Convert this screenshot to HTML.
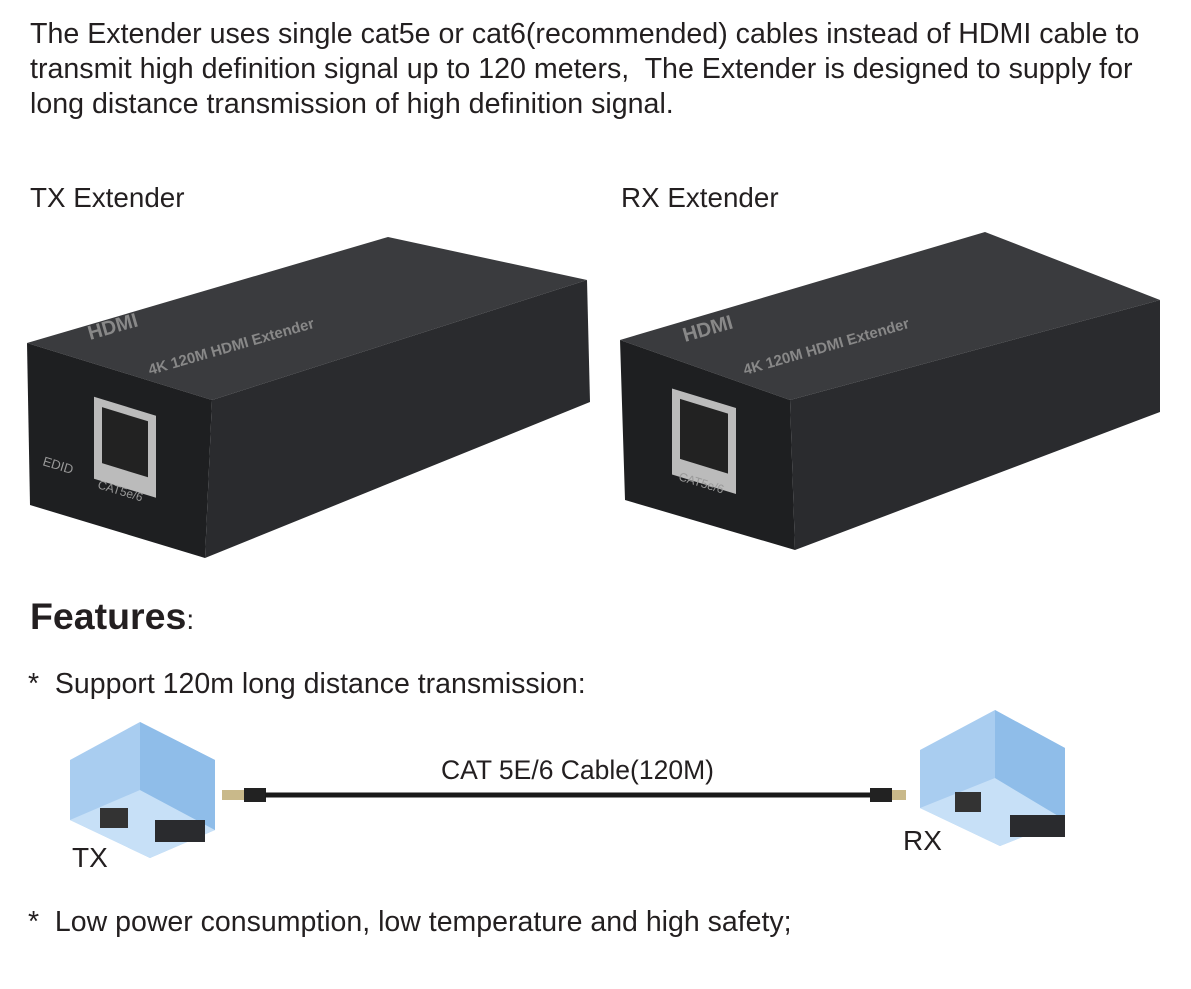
<!DOCTYPE html>
<html><head><meta charset="utf-8"><style>
body{margin:0;width:1191px;height:989px;background:#fff;position:relative;overflow:hidden;font-family:"Liberation Sans",sans-serif;color:#231f20}
.t{position:absolute;white-space:nowrap}
</style></head><body>
<div class="t" style="left:30px;top:17px;font-size:28.6px;line-height:35px">The Extender uses single cat5e or cat6(recommended) cables instead of HDMI cable to<br>transmit high definition signal up to 120 meters,&nbsp; The Extender is designed to supply for<br>long distance transmission of high definition signal.</div>
<div class="t" style="left:30px;top:182px;font-size:27.8px">TX Extender</div>
<div class="t" style="left:621px;top:182px;font-size:27.8px">RX Extender</div>
<svg width="1191" height="989" style="position:absolute;left:0;top:0">
<g>
<polygon points="27,343 388,237 587,280 212,400" fill="#3a3b3e"/>
<polygon points="27,343 212,400 205,558 30,505" fill="#1e1f21"/>
<polygon points="212,400 587,280 590,402 205,558" fill="#2a2b2e"/>
<rect x="94" y="396" width="62" height="82" fill="#bbb" transform="skewY(17) translate(0,-28)"/>
<rect x="102" y="404" width="46" height="56" fill="#222" transform="skewY(17) translate(0,-28)"/>
<text x="90" y="340" fill="#888" font-size="20" font-weight="bold" transform="rotate(-16 90 340)">HDMI</text>
<text x="150" y="375" fill="#888" font-size="15" font-weight="bold" transform="rotate(-16 150 375)">4K 120M HDMI Extender</text>
<text x="42" y="465" fill="#999" font-size="13" transform="rotate(17 42 465)">EDID</text>
<text x="97" y="488" fill="#999" font-size="12" transform="rotate(17 97 488)">CAT5e/6</text>
</g>
<g>
<polygon points="620,340 985,232 1160,300 790,400" fill="#3a3b3e"/>
<polygon points="620,340 790,400 795,550 625,500" fill="#1e1f21"/>
<polygon points="790,400 1160,300 1160,412 795,550" fill="#2a2b2e"/>
<rect x="672" y="388" width="64" height="86" fill="#bbb" transform="skewY(17) translate(0,-205)"/>
<rect x="680" y="396" width="48" height="60" fill="#222" transform="skewY(17) translate(0,-205)"/>
<text x="685" y="342" fill="#888" font-size="20" font-weight="bold" transform="rotate(-16 685 342)">HDMI</text>
<text x="745" y="375" fill="#888" font-size="15" font-weight="bold" transform="rotate(-16 745 375)">4K 120M HDMI Extender</text>
<text x="678" y="480" fill="#999" font-size="12" transform="rotate(17 678 480)">CAT5e/6</text>
</g>
<g>
<polygon points="70,760 140,722 215,760 215,830 150,858 70,820" fill="#a9cdf0"/>
<polygon points="70,820 140,790 215,830 150,858" fill="#c7e0f7"/>
<polygon points="140,722 140,790 215,830 215,760" fill="#8fbde9"/>
<rect x="155" y="820" width="50" height="22" fill="#2a2b2e"/>
<rect x="100" y="808" width="28" height="20" fill="#333"/>
</g>
<g>
<polygon points="920,750 995,710 1065,748 1065,820 1000,846 920,808" fill="#a9cdf0"/>
<polygon points="920,808 995,778 1065,820 1000,846" fill="#c7e0f7"/>
<polygon points="995,710 995,778 1065,820 1065,748" fill="#8fbde9"/>
<rect x="1010" y="815" width="55" height="22" fill="#2a2b2e"/>
<rect x="955" y="792" width="26" height="20" fill="#333"/>
</g>
<rect x="222" y="790" width="22" height="10" fill="#c9b98a"/>
<rect x="244" y="788" width="22" height="14" fill="#222"/>
<line x1="265" y1="795" x2="870" y2="795" stroke="#1a1a1a" stroke-width="5"/>
<rect x="870" y="788" width="22" height="14" fill="#222"/>
<rect x="892" y="790" width="14" height="10" fill="#c9b98a"/>
</svg>
<div class="t" style="left:30px;top:595px;font-size:37.5px;font-weight:bold">Features<span style="font-weight:normal;font-size:28px">:</span></div>
<div class="t" style="left:28px;top:668px;font-size:28.5px">*&nbsp; Support 120m long distance transmission:</div>
<div class="t" style="left:441px;top:755px;font-size:26.5px">CAT 5E/6 Cable(120M)</div>
<div class="t" style="left:72px;top:842px;font-size:28px">TX</div>
<div class="t" style="left:903px;top:825px;font-size:28px">RX</div>
<div class="t" style="left:28px;top:906px;font-size:28.5px">*&nbsp; Low power consumption, low temperature and high safety;</div>
</body></html>
